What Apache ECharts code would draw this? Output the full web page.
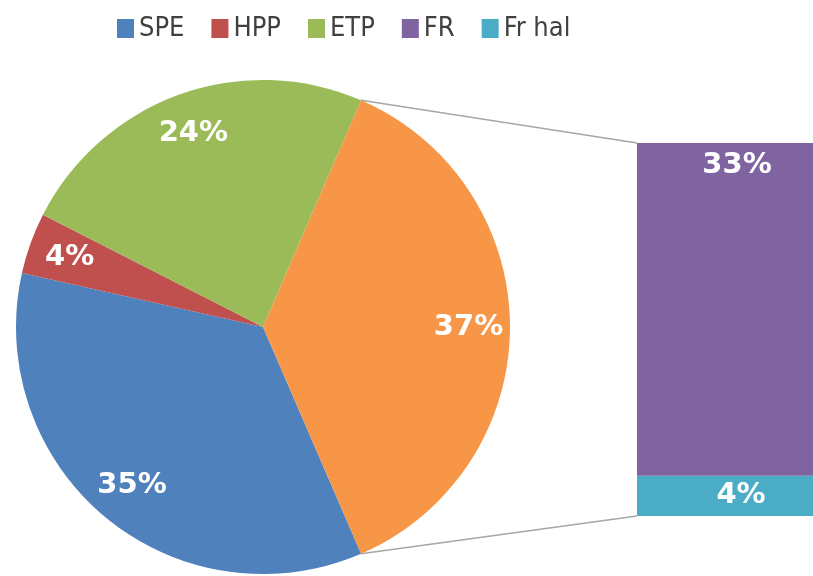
<!DOCTYPE html>
<html>
<head>
<meta charset="utf-8">
<script src="https://cdn.jsdelivr.net/npm/echarts@6/dist/echarts.min.js"></script>
<style>
  html, body { margin: 0; padding: 0; background: #fff; }
  #main { width: 813px; height: 576px; }
</style>
</head>
<body>
<div id="main"></div>
<script>
// pie slices (the last one is split out into the bar)
const pieNames = ['SPE', 'HPP', 'ETP', 'Other']
const pieValues = [35, 4, 24, 37]
const pieColors = ['#4f81bd', '#c0504d', '#9bbb59', '#f79646']

// stacked bar that breaks down the "Other" slice
const barNames = ['FR', 'Fr hal']
const barValues = [33, 4]
const barColors = ['#8064a2', '#4bacc6']

const legendNames = ['SPE', 'HPP', 'ETP', 'FR', 'Fr hal']

const total = pieValues.reduce((a, b) => a + b, 0)
const otherValue = pieValues[pieValues.length - 1]
// centre the last slice on the 3 o'clock direction
const startAngle = -otherValue / total * 180

const cx = 263, cy = 327, r = 247
const barLeft = 637

const labelFont = {
  color: '#fff',
  fontFamily: 'DejaVu Sans',
  fontWeight: 'bold',
  fontSize: 29
}

const chart = echarts.init(document.getElementById('main'))

const pieData = pieNames.map((name, i) => ({
  name,
  value: pieValues[i],
  itemStyle: { color: pieColors[i] }
}))

const option = {
  animation: false,
  legend: {
    data: legendNames,
    left: 112,
    top: 10,
    icon: 'rect',
    itemWidth: 17,
    itemHeight: 19,
    itemGap: 27,
    textStyle: {
      fontFamily: '"Liberation Sans Narrow", "DejaVu Sans Condensed", sans-serif',
      fontSize: 27,
      color: '#404040'
    }
  },
  grid: {
    left: barLeft,
    top: 143,
    right: 0,
    height: 373
  },
  xAxis: {
    type: 'category',
    data: ['x'],
    show: false
  },
  yAxis: {
    type: 'value',
    min: 0,
    max: otherValue,
    show: false
  },
  series: [
    {
      type: 'pie',
      center: [cx, cy],
      radius: r,
      startAngle: startAngle,
      clockwise: true,
      label: { show: false },
      labelLine: { show: false },
      emphasis: { disabled: true },
      data: pieData
    },
    {
      // transparent ring only used to put the labels further out
      type: 'pie',
      center: [cx, cy],
      radius: [r * 0.64, r],
      startAngle: startAngle,
      clockwise: true,
      silent: true,
      itemStyle: { color: 'rgba(0,0,0,0)' },
      label: Object.assign({ show: true, position: 'inside', formatter: '{c}%' }, labelFont),
      labelLine: { show: false },
      data: pieNames.map((name, i) => ({ name, value: pieValues[i], itemStyle: { color: 'rgba(0,0,0,0)' } }))
    },
    {
      name: barNames[1],
      type: 'bar',
      stack: 'other',
      barWidth: '100%',
      itemStyle: { color: barColors[1] },
      // the bar runs off the right edge, so its labels sit right of the visible centre
      label: Object.assign({ show: true, position: 'inside', offset: [16, 0], formatter: '{c}%' }, labelFont),
      data: [barValues[1]]
    },
    {
      name: barNames[0],
      type: 'bar',
      stack: 'other',
      barWidth: '100%',
      itemStyle: { color: barColors[0] },
      label: Object.assign({ show: true, position: 'insideTop', distance: 8, offset: [12, 0], formatter: '{c}%' }, labelFont),
      data: [barValues[0]]
    }
  ]
}

chart.setOption(option)

// connector lines from the edges of the last slice to the bar's top and bottom
const a = otherValue / total * Math.PI
const topY = chart.convertToPixel({ yAxisIndex: 0 }, otherValue)
const botY = chart.convertToPixel({ yAxisIndex: 0 }, 0)
chart.setOption({
  graphic: [
    {
      type: 'line',
      shape: { x1: cx + r * Math.cos(a), y1: cy - r * Math.sin(a), x2: barLeft, y2: topY },
      style: { stroke: '#a6a6a6', lineWidth: 1.5 }
    },
    {
      type: 'line',
      shape: { x1: cx + r * Math.cos(a), y1: cy + r * Math.sin(a), x2: barLeft, y2: botY },
      style: { stroke: '#a6a6a6', lineWidth: 1.5 }
    }
  ]
})
</script>
</body>
</html>
